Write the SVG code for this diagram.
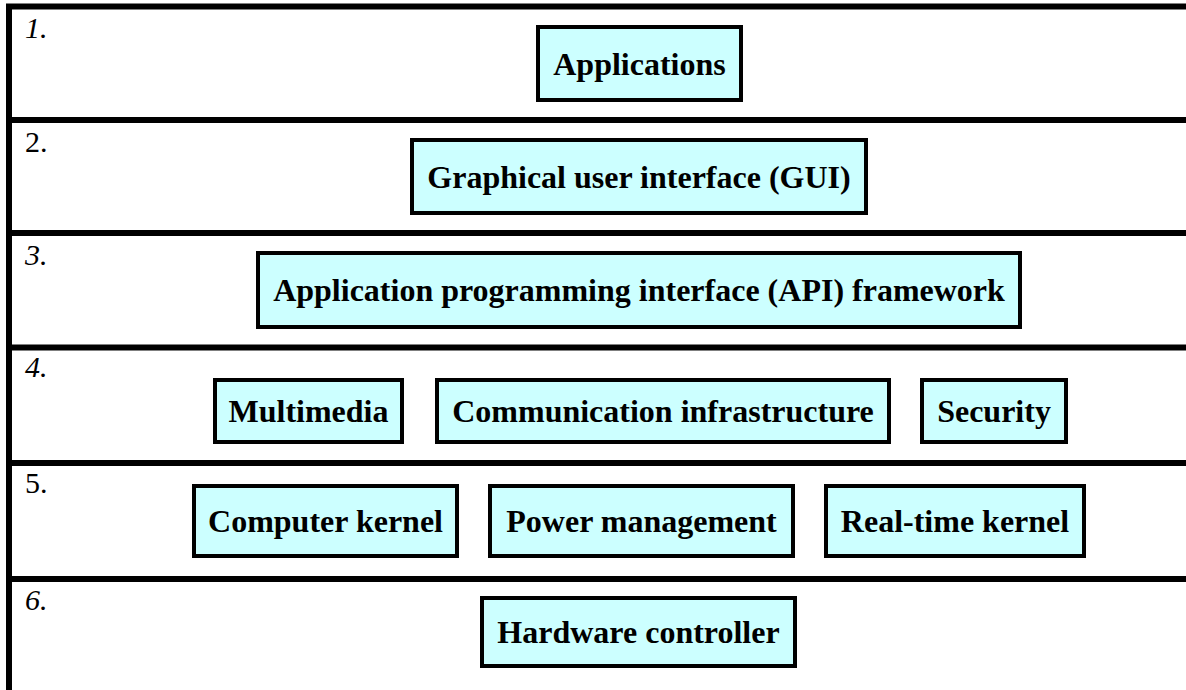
<svg xmlns="http://www.w3.org/2000/svg" width="1186" height="690" viewBox="0 0 1186 690">
<style>
.frame{stroke:#000;stroke-width:6;fill:none}
.box{fill:#CCFFFF;stroke:#000;stroke-width:4}
.t{font-family:"Liberation Serif","Times New Roman",serif;font-weight:bold;font-size:32px;fill:#000;text-anchor:middle}
.n{font-family:"Liberation Serif","Times New Roman",serif;font-size:30px;fill:#000}
.i{font-style:italic}
</style>
<rect width="1186" height="690" fill="#fff"/>
<g id="frame">
<line class="frame" x1="9" y1="4" x2="9" y2="690"/>
<line class="frame" x1="6" y1="6.5" x2="1186" y2="6.5"/>
<line class="frame" x1="6" y1="120" x2="1186" y2="120"/>
<line class="frame" x1="6" y1="233" x2="1186" y2="233"/>
<line class="frame" x1="6" y1="347.5" x2="1186" y2="347.5"/>
<line class="frame" x1="6" y1="463" x2="1186" y2="463"/>
<line class="frame" x1="6" y1="579" x2="1186" y2="579"/>
</g>
<g id="labels">
<text class="n i" x="25" y="38">1.</text>
<text class="n" x="25" y="152">2.</text>
<text class="n i" x="25" y="265">3.</text>
<text class="n i" x="25" y="377">4.</text>
<text class="n" x="25" y="493">5.</text>
<text class="n i" x="25" y="610">6.</text>
</g>
<g id="applications"><rect class="box" x="538" y="27" width="203" height="73"/><text class="t" x="639.5" y="75">Applications</text></g>
<g id="gui"><rect class="box" x="412" y="140" width="454" height="73"/><text class="t" x="639" y="188">Graphical user interface (GUI)</text></g>
<g id="api"><rect class="box" x="258" y="253" width="762" height="74"/><text class="t" x="639" y="301">Application programming interface (API) framework</text></g>
<g id="multimedia"><rect class="box" x="215" y="380" width="187" height="62"/><text class="t" x="308.5" y="422">Multimedia</text></g>
<g id="communication"><rect class="box" x="437" y="380" width="452" height="62"/><text class="t" x="663" y="422">Communication infrastructure</text></g>
<g id="security"><rect class="box" x="922" y="380" width="144" height="62"/><text class="t" x="994" y="422">Security</text></g>
<g id="computer-kernel"><rect class="box" x="194" y="486" width="263" height="70"/><text class="t" x="325.5" y="532">Computer kernel</text></g>
<g id="power-management"><rect class="box" x="490" y="486" width="303" height="70"/><text class="t" x="641.5" y="532">Power management</text></g>
<g id="realtime-kernel"><rect class="box" x="826" y="486" width="258" height="70"/><text class="t" x="955" y="532">Real-time kernel</text></g>
<g id="hardware"><rect class="box" x="482" y="598" width="313" height="68"/><text class="t" x="638.5" y="643">Hardware controller</text></g>
<g id="connectors"/>
</svg>
